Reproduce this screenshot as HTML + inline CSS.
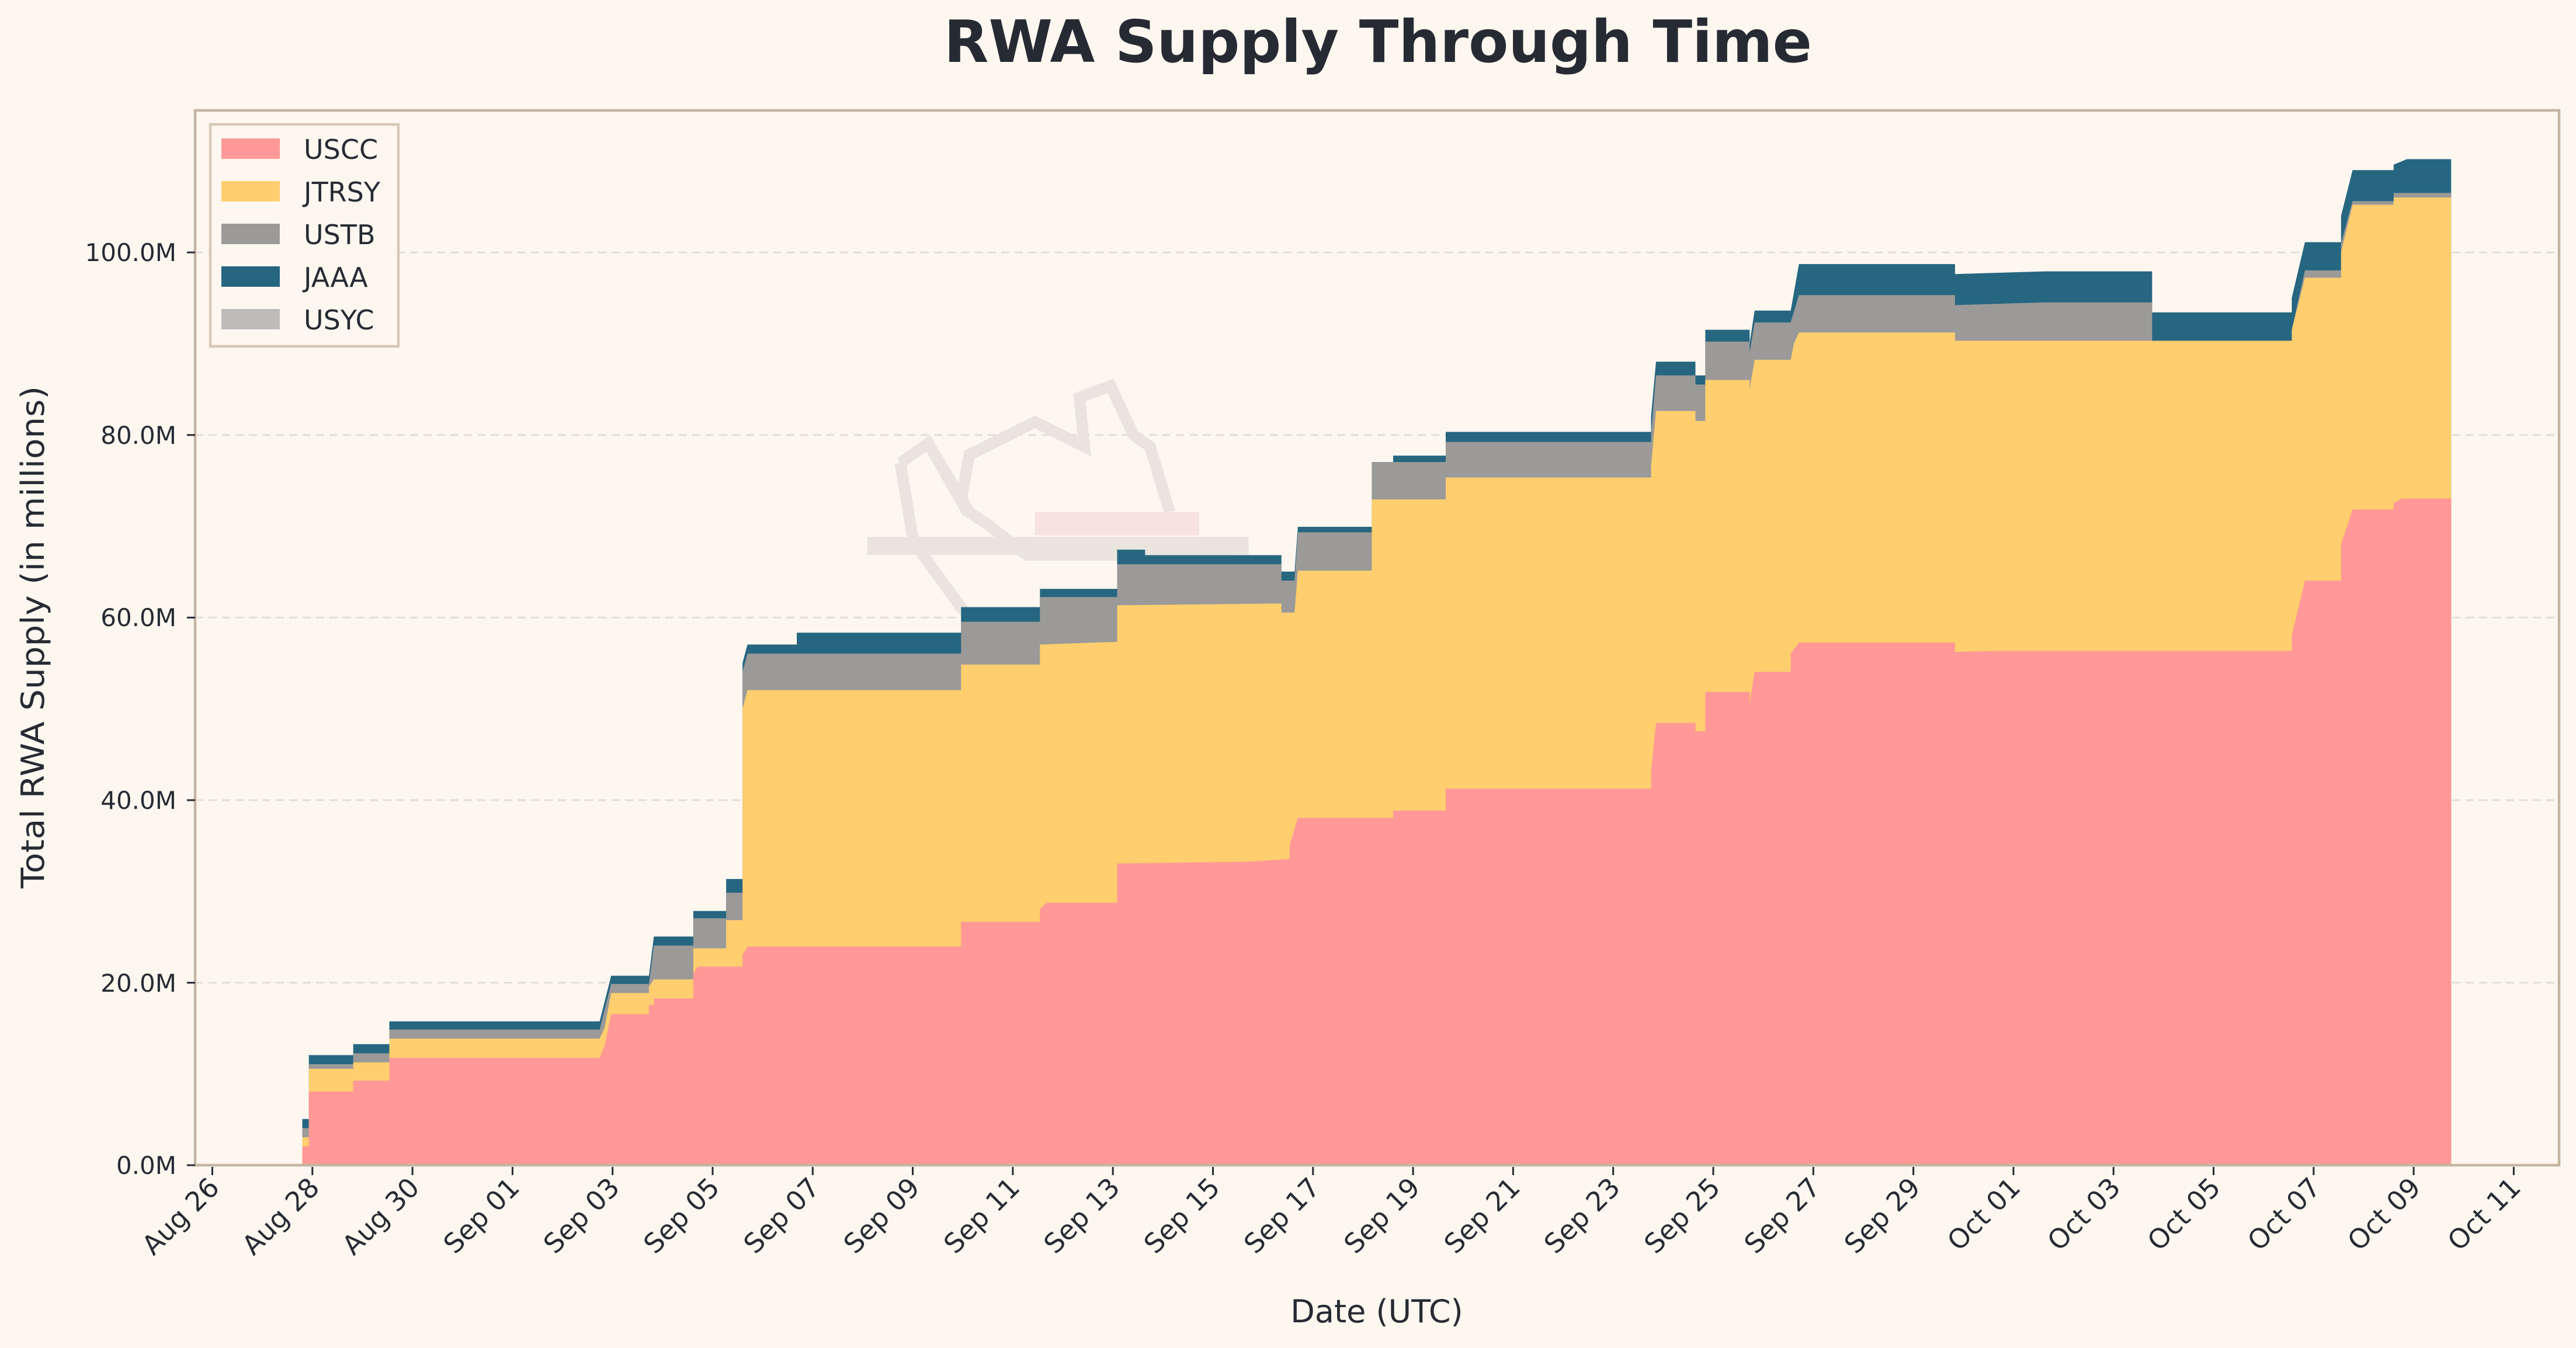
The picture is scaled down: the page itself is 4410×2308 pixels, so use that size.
<!DOCTYPE html>
<html><head><meta charset="utf-8"><style>
html,body{margin:0;padding:0;background:#fdf7f0;}
svg{display:block;}
text{font-family:"DejaVu Sans","Liberation Sans",sans-serif;fill:#262b33;}
</style></head><body>
<svg width="4410" height="2308" viewBox="0 0 4410 2308" xmlns="http://www.w3.org/2000/svg">
<rect x="0" y="0" width="4410" height="2308" fill="#fdf7f0"/>
<text x="2359" y="106" font-size="100" font-weight="bold" text-anchor="middle" textLength="1486" lengthAdjust="spacingAndGlyphs">RWA Supply Through Time</text>
<g stroke="#e3ded6" stroke-width="3" stroke-dasharray="14,9">
<line x1="334" x2="4381" y1="1682.6" y2="1682.6"/>
<line x1="334" x2="4381" y1="1370" y2="1370"/>
<line x1="334" x2="4381" y1="1057.4" y2="1057.4"/>
<line x1="334" x2="4381" y1="744.8" y2="744.8"/>
<line x1="334" x2="4381" y1="432.2" y2="432.2"/>
</g>
<g transform="scale(2.8125 2.8112)" fill="none" stroke="#e9e5de" stroke-width="7" stroke-linejoin="miter">
<polyline points="548,282 565,270 585,305 590,277 630,257 660,272 657,242 676,235 690,265 700,272 712,312"/>
<polyline points="548,282 556,330 585,370 600,385"/>
<polyline points="565,270 590,312 602,320 625,338 750,338"/>
<rect x="528" y="327" width="232" height="11" fill="#e9e5de" stroke="none"/>
<rect x="630" y="312" width="100" height="14" fill="#f7e2dd" stroke="none"/>
</g>
<g transform="scale(2.8125 2.8112) translate(0 709.3) scale(1 -5.557)">
<polygon fill="#266680" points="184,0 184,5 188,5 188,12 215,12 215,13.2 237,13.2 237,15.7 365,15.7 372,20.7 395,20.7 398,25 422,25 422,27.8 442,27.8 442,31.3 452,31.3 452,55 455,57 485,57 485,58.3 585,58.3 585,61.1 633,61.1 633,63.1 680,63.1 680,67.4 697,67.4 697,66.8 780,66.8 780,65 788,65 790,69.9 835,69.9 835,77 848,77 848,77.7 880,77.7 880,80.3 1005,80.3 1005,82 1008,88 1032,88 1032,86.5 1038,86.5 1038,91.5 1065,91.5 1065,90 1068,93.6 1090,93.6 1095,98.7 1190,98.7 1190,97.6 1245,97.9 1310,97.9 1310,93.4 1395,93.4 1395,95 1403,101.1 1425,101.1 1425,104 1432,109 1457,109 1457,109.6 1465,110.2 1492,110.2 1492,0"/>
<polygon fill="#9b9a98" points="184,0 184,4 188,4 188,11 215,11 215,12.2 237,12.2 237,14.8 365,14.8 372,19.8 395,19.8 398,24 422,24 422,27 442,27 442,29.8 452,29.8 452,54 455,56 585,56 585,59.5 633,59.5 633,62.2 680,62.2 680,65.8 780,65.8 780,64 788,64 790,69.3 835,69.3 835,77 880,77 880,79.2 1005,79.2 1005,80 1008,86.5 1032,86.5 1032,85.5 1038,85.5 1038,90.2 1065,90.2 1065,89 1068,92.3 1090,92.3 1095,95.3 1190,95.3 1190,94.2 1245,94.5 1310,94.5 1310,90 1395,90 1395,91.5 1403,98 1425,98 1425,101 1432,105.6 1457,105.6 1457,106.5 1492,106.5 1492,0"/>
<polygon fill="#ffce6f" points="184,0 184,3 188,3 188,10.5 215,10.5 215,11.2 237,11.2 237,13.8 365,13.8 368,15 372,18.8 395,18.8 395,19.5 398,20.3 422,20.3 422,23.7 442,23.7 442,26.8 452,26.8 452,50 455,52 585,52 585,54.8 633,54.8 633,57 680,57.3 680,61.3 780,61.5 780,60.5 788,60.5 790,65.1 835,65.1 835,72.9 880,72.9 880,75.3 1005,75.3 1005,76.5 1008,82.6 1032,82.6 1032,81.5 1038,81.5 1038,86 1065,86 1065,85 1068,88.2 1090,88.2 1092,90 1095,91.2 1190,91.2 1190,90.3 1395,90.3 1395,91.5 1403,97.2 1425,97.2 1425,100 1432,105.2 1457,105.2 1457,106 1492,106 1492,0"/>
<polygon fill="#ff9896" points="184,0 184,2 188,2 188,8 215,8 215,9.2 237,9.2 237,11.7 365,11.7 368,13 372,16.5 395,16.5 395,17.5 398,17.5 398,18.2 422,18.2 422,21 425,21.7 452,21.7 452,23 455,23.9 585,23.9 585,26.6 633,26.6 633,28 637,28.7 680,28.7 680,33 760,33.2 785,33.5 785,35 790,38 848,38 848,38.8 880,38.8 880,41.2 1005,41.2 1005,43 1008,48.4 1032,48.4 1032,47.5 1038,47.5 1038,51.8 1065,51.8 1065,50.5 1068,54 1090,54 1090,56 1095,57.2 1190,57.2 1190,56.2 1220,56.3 1395,56.3 1395,58 1403,64 1425,64 1425,68 1432,71.8 1457,71.8 1457,72.5 1462,73 1492,73 1492,0"/>
</g>
<rect x="334" y="189" width="4047" height="1806" fill="none" stroke="#c4b5a3" stroke-width="4.5"/>
<g stroke="#262b33" stroke-width="3">
<line x1="320" x2="334" y1="1995" y2="1995"/><line x1="320" x2="334" y1="1682.6" y2="1682.6"/><line x1="320" x2="334" y1="1370" y2="1370"/><line x1="320" x2="334" y1="1057.4" y2="1057.4"/><line x1="320" x2="334" y1="744.8" y2="744.8"/><line x1="320" x2="334" y1="432.2" y2="432.2"/>
</g>
<g font-size="42" text-anchor="end">
<text x="302" y="2010">0.0M</text><text x="302" y="1698">20.0M</text><text x="302" y="1385">40.0M</text><text x="302" y="1072">60.0M</text><text x="302" y="760">80.0M</text><text x="302" y="447">100.0M</text>
</g>
<g stroke="#262b33" stroke-width="3">
<line x1="363.5" x2="363.5" y1="1998" y2="2012"/><line x1="534.8" x2="534.8" y1="1998" y2="2012"/><line x1="706.1" x2="706.1" y1="1998" y2="2012"/><line x1="877.4" x2="877.4" y1="1998" y2="2012"/><line x1="1048.7" x2="1048.7" y1="1998" y2="2012"/><line x1="1220" x2="1220" y1="1998" y2="2012"/><line x1="1391.3" x2="1391.3" y1="1998" y2="2012"/><line x1="1562.6" x2="1562.6" y1="1998" y2="2012"/><line x1="1733.9" x2="1733.9" y1="1998" y2="2012"/><line x1="1905.2" x2="1905.2" y1="1998" y2="2012"/><line x1="2076.5" x2="2076.5" y1="1998" y2="2012"/><line x1="2247.8" x2="2247.8" y1="1998" y2="2012"/><line x1="2419.1" x2="2419.1" y1="1998" y2="2012"/><line x1="2590.4" x2="2590.4" y1="1998" y2="2012"/><line x1="2761.7" x2="2761.7" y1="1998" y2="2012"/><line x1="2933" x2="2933" y1="1998" y2="2012"/><line x1="3104.3" x2="3104.3" y1="1998" y2="2012"/><line x1="3275.6" x2="3275.6" y1="1998" y2="2012"/><line x1="3446.9" x2="3446.9" y1="1998" y2="2012"/><line x1="3618.2" x2="3618.2" y1="1998" y2="2012"/><line x1="3789.5" x2="3789.5" y1="1998" y2="2012"/><line x1="3960.8" x2="3960.8" y1="1998" y2="2012"/><line x1="4132.1" x2="4132.1" y1="1998" y2="2012"/><line x1="4303.4" x2="4303.4" y1="1998" y2="2012"/>
</g>
<g font-size="46" text-anchor="end">
<text transform="translate(378 2036) rotate(-45)">Aug 26</text>
<text transform="translate(549.3 2036) rotate(-45)">Aug 28</text>
<text transform="translate(720.6 2036) rotate(-45)">Aug 30</text>
<text transform="translate(891.9 2036) rotate(-45)">Sep 01</text>
<text transform="translate(1063.2 2036) rotate(-45)">Sep 03</text>
<text transform="translate(1234.5 2036) rotate(-45)">Sep 05</text>
<text transform="translate(1405.8 2036) rotate(-45)">Sep 07</text>
<text transform="translate(1577.1 2036) rotate(-45)">Sep 09</text>
<text transform="translate(1748.4 2036) rotate(-45)">Sep 11</text>
<text transform="translate(1919.7 2036) rotate(-45)">Sep 13</text>
<text transform="translate(2091 2036) rotate(-45)">Sep 15</text>
<text transform="translate(2262.3 2036) rotate(-45)">Sep 17</text>
<text transform="translate(2433.6 2036) rotate(-45)">Sep 19</text>
<text transform="translate(2604.9 2036) rotate(-45)">Sep 21</text>
<text transform="translate(2776.2 2036) rotate(-45)">Sep 23</text>
<text transform="translate(2947.5 2036) rotate(-45)">Sep 25</text>
<text transform="translate(3118.8 2036) rotate(-45)">Sep 27</text>
<text transform="translate(3290.1 2036) rotate(-45)">Sep 29</text>
<text transform="translate(3461.4 2036) rotate(-45)">Oct 01</text>
<text transform="translate(3632.7 2036) rotate(-45)">Oct 03</text>
<text transform="translate(3804 2036) rotate(-45)">Oct 05</text>
<text transform="translate(3975.3 2036) rotate(-45)">Oct 07</text>
<text transform="translate(4146.6 2036) rotate(-45)">Oct 09</text>
<text transform="translate(4317.9 2036) rotate(-45)">Oct 11</text>
</g>
<text x="2357" y="2264" font-size="54" text-anchor="middle">Date (UTC)</text>
<text transform="translate(75 1091) rotate(-90)" font-size="54" text-anchor="middle" textLength="860" lengthAdjust="spacingAndGlyphs">Total RWA Supply (in millions)</text>
<rect x="360" y="213" width="322" height="380" fill="#fdf7f0" stroke="#d6c8b5" stroke-width="4.5"/>
<rect x="379" y="237" width="100" height="35" fill="#ff9896"/>
<rect x="379" y="310" width="100" height="35" fill="#ffce6f"/>
<rect x="379" y="383" width="100" height="35" fill="#9b9a98"/>
<rect x="379" y="456" width="100" height="35" fill="#266680"/>
<rect x="379" y="529" width="100" height="35" fill="#bdbcbb"/>
<g font-size="46">
<text x="520" y="272">USCC</text>
<text x="520" y="345">JTRSY</text>
<text x="520" y="418">USTB</text>
<text x="520" y="491">JAAA</text>
<text x="520" y="564">USYC</text>
</g>
</svg>
</body></html>
